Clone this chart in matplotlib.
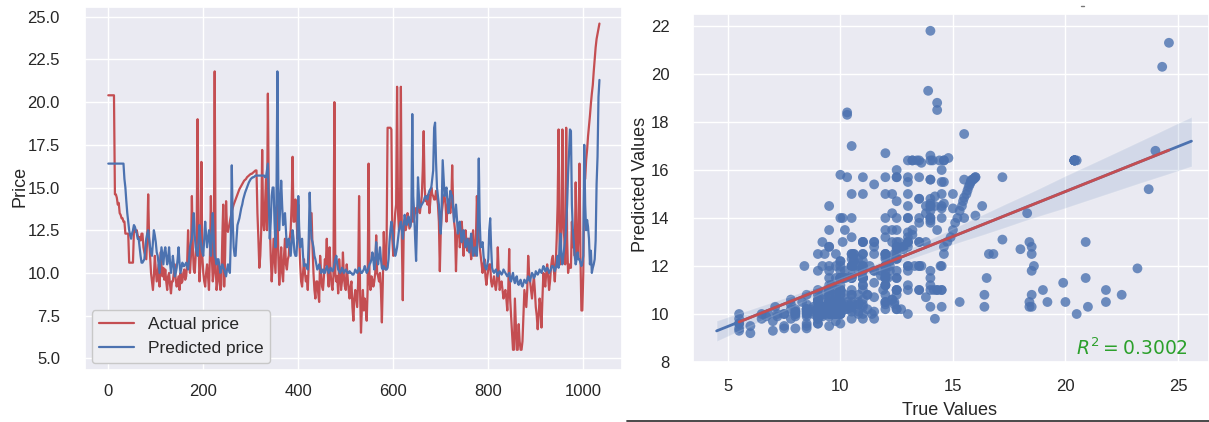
import numpy as np
import matplotlib
matplotlib.use("Agg")
import matplotlib.pyplot as plt
import seaborn as sns
from matplotlib.lines import Line2D

# ---------------- data ----------------
sample_index = np.arange(0, 1035, 2)   # every 2nd point of the test set

actual_price = [
    20.4, 20.4, 20.4, 20.4, 20.4, 20.4, 20.4, 14.6, 14.6, 14.4, 14.0, 14.1, 13.5, 13.4, 13.2, 13.2, 13.0, 13.0, 12.3, 12.3,
    12.3, 12.3, 10.6, 10.6, 10.6, 10.6, 10.6, 12.5, 12.5, 12.4, 12.5, 12.2, 12.0, 12.1, 11.9, 12.3, 12.3, 11.5, 11.2, 11.0,
    10.8, 12.0, 14.6, 12.0, 11.0, 10.0, 9.5, 9.0, 9.8, 11.0, 10.2, 9.5, 10.0, 10.5, 9.2, 11.2, 10.5, 9.8, 10.3, 9.6,
    10.2, 9.5, 9.0, 9.8, 10.0, 9.3, 8.8, 9.5, 9.5, 10.0, 10.5, 9.6, 9.2, 9.5, 9.8, 9.0, 10.0, 9.4, 9.5, 10.0,
    10.2, 9.6, 9.8, 10.5, 12.5, 10.8, 10.0, 11.0, 14.5, 11.5, 10.2, 10.0, 11.0, 12.0, 19.0, 12.0, 9.5, 10.5, 16.5, 11.0,
    10.0, 9.5, 9.2, 10.0, 10.5, 9.8, 9.0, 11.0, 14.5, 11.0, 9.5, 10.0, 21.8, 10.5, 9.0, 9.5, 10.5, 9.8, 9.0, 9.3,
    12.0, 14.0, 9.2, 11.0, 14.2, 12.5, 12.4, 12.7, 13.0, 13.3, 13.6, 13.8, 14.0, 14.15, 14.3, 14.45, 14.6, 14.75, 14.9, 15.0,
    15.1, 15.2, 15.3, 15.4, 15.45, 15.5, 15.6, 15.65, 15.7, 15.75, 15.8, 15.8, 15.85, 15.9, 15.95, 16.0, 16.0, 13.5, 12.0, 10.3,
    11.0, 12.5, 17.2, 13.0, 12.5, 14.0, 15.5, 12.5, 20.5, 14.0, 13.0, 11.0, 9.5, 10.5, 12.0, 11.0, 10.0, 12.5, 14.0, 11.0,
    9.3, 10.5, 11.5, 10.0, 9.5, 11.0, 12.0, 10.5, 10.2, 10.8, 11.0, 12.0, 12.5, 14.0, 16.8, 13.0, 13.0, 14.3, 13.5, 12.0,
    14.0, 12.0, 10.5, 9.5, 9.2, 10.0, 10.8, 10.0, 9.5, 9.8, 9.0, 10.5, 12.5, 13.0, 13.5, 11.5, 10.0, 9.0, 8.5, 9.5,
    9.5, 8.8, 8.3, 11.0, 10.0, 9.2, 9.0, 9.8, 10.8, 10.5, 12.0, 10.0, 9.2, 11.5, 10.0, 9.3, 9.0, 9.8, 20.0, 10.0,
    9.5, 9.8, 8.8, 10.8, 10.0, 9.0, 9.5, 11.2, 9.8, 9.2, 9.0, 10.5, 9.7, 9.0, 8.5, 9.2, 9.5, 8.0, 7.2, 8.5,
    9.0, 8.5, 8.0, 9.5, 14.5, 9.0, 6.5, 8.0, 9.0, 7.8, 8.5, 8.0, 7.2, 9.0, 16.4, 9.5, 9.0, 9.8, 9.6, 9.2,
    9.5, 10.0, 12.2, 10.0, 9.8, 9.5, 10.0, 9.0, 7.1, 9.5, 12.4, 10.5, 10.2, 12.0, 18.5, 18.5, 18.5, 18.5, 18.4, 12.0,
    11.0, 12.5, 13.5, 14.0, 20.9, 13.5, 12.5, 13.0, 20.9, 12.0, 8.4, 12.5, 13.0, 12.5, 12.8, 13.5, 13.2, 12.6, 12.8, 13.0,
    13.9, 13.0, 13.2, 13.6, 13.8, 13.5, 14.0, 13.8, 13.5, 14.0, 14.5, 16.0, 18.3, 15.0, 14.2, 14.5, 14.0, 14.6, 13.5, 14.2,
    15.0, 14.6, 14.5, 14.3, 14.3, 14.8, 14.5, 14.0, 13.0, 10.1, 12.5, 13.5, 14.0, 14.5, 14.5, 14.0, 13.0, 13.8, 14.3, 14.0,
    13.5, 14.0, 16.3, 14.0, 13.0, 12.5, 10.1, 12.0, 12.5, 12.8, 11.5, 12.0, 13.0, 12.2, 11.0, 12.0, 12.5, 11.8, 11.3, 12.0,
    12.0, 11.5, 10.8, 11.8, 12.5, 11.5, 11.0, 12.0, 14.5, 13.0, 12.0, 11.5, 11.0, 10.5, 10.0, 10.5, 10.8, 9.8, 9.3, 9.8,
    10.2, 10.5, 10.5, 9.5, 9.2, 9.5, 9.8, 9.3, 9.0, 9.5, 11.5, 10.0, 9.0, 9.3, 9.5, 9.0, 8.5, 8.8, 9.0, 8.5,
    7.8, 9.0, 11.4, 8.5, 7.5, 6.5, 5.5, 5.5, 8.5, 7.0, 5.5, 5.5, 7.0, 6.0, 5.5, 5.5, 6.0, 7.5, 9.0, 8.5,
    8.0, 9.0, 11.0, 10.0, 9.5, 9.0, 8.5, 9.2, 9.8, 9.0, 8.0, 7.5, 6.7, 7.5, 8.5, 8.0, 6.8, 8.5, 10.0, 9.5,
    9.2, 10.0, 10.5, 9.8, 9.0, 9.5, 10.3, 10.8, 11.0, 10.2, 9.5, 10.5, 12.0, 14.0, 18.4, 12.0, 10.5, 12.5, 18.4, 13.0,
    12.0, 10.5, 18.5, 12.0, 10.0, 10.5, 10.3, 10.3, 13.0, 11.5, 12.5, 11.0, 15.3, 12.0, 11.0, 12.5, 16.4, 11.0, 7.8, 7.8,
    10.0, 15.5, 15.5, 16.6, 17.2, 18.0, 18.6, 19.2, 19.9, 20.5, 21.0, 21.8, 22.5, 23.2, 23.7, 24.0, 24.3, 24.6,
]

predicted_price = [
    16.4, 16.4, 16.4, 16.4, 16.4, 16.4, 16.4, 16.4, 16.4, 16.4, 16.4, 16.4, 16.4, 16.4, 16.4, 16.4, 16.4, 15.5, 15.0, 14.2,
    13.5, 13.0, 12.5, 12.2, 12.0, 12.3, 12.5, 12.8, 12.7, 12.5, 12.3, 12.0, 12.0, 11.5, 11.0, 10.6, 10.6, 10.7, 10.8, 11.5,
    12.0, 12.3, 12.5, 12.0, 11.5, 11.2, 11.0, 11.8, 12.5, 12.2, 11.8, 11.2, 11.0, 10.5, 10.0, 10.8, 11.5, 11.0, 10.5, 11.2,
    11.5, 11.0, 10.5, 10.8, 11.5, 10.6, 10.0, 10.4, 11.0, 10.5, 9.8, 10.0, 10.3, 10.8, 11.5, 10.6, 10.0, 10.3, 10.6, 10.4,
    10.4, 10.5, 10.6, 10.4, 10.2, 10.8, 11.5, 11.8, 12.0, 12.8, 13.5, 12.2, 11.5, 11.2, 11.0, 11.8, 12.8, 12.0, 11.5, 11.2,
    11.0, 12.0, 13.0, 12.2, 11.5, 12.0, 12.5, 11.8, 11.0, 12.5, 13.5, 12.0, 11.0, 10.8, 10.5, 10.8, 10.8, 10.4, 10.0, 10.3,
    10.5, 10.3, 10.2, 10.0, 9.8, 10.2, 10.5, 10.2, 10.0, 12.0, 16.3, 13.0, 11.5, 11.0, 11.0, 12.0, 12.8, 13.0, 13.2, 13.5,
    13.8, 14.0, 14.3, 14.5, 14.7, 14.85, 15.0, 15.15, 15.3, 15.4, 15.5, 15.55, 15.6, 15.6, 15.65, 15.7, 15.7, 15.7, 15.7, 15.7,
    15.7, 15.7, 15.7, 15.7, 15.7, 15.6, 15.6, 16.0, 16.4, 14.0, 12.0, 13.0, 14.5, 15.0, 15.0, 13.0, 11.5, 14.0, 21.8, 15.0,
    12.5, 14.0, 15.4, 14.0, 12.8, 13.0, 13.5, 12.5, 11.5, 11.8, 12.0, 11.5, 11.0, 11.8, 12.5, 12.0, 11.2, 11.0, 11.0, 12.0,
    14.5, 12.5, 11.5, 11.8, 12.0, 11.0, 10.4, 10.5, 10.5, 10.3, 10.2, 12.0, 14.7, 13.0, 12.0, 11.8, 11.5, 11.0, 10.8, 10.5,
    10.2, 10.3, 10.5, 10.3, 10.0, 10.1, 10.2, 10.0, 10.0, 10.2, 10.4, 10.2, 10.0, 10.1, 10.3, 10.2, 10.1, 10.2, 10.5, 10.8,
    11.0, 10.5, 10.2, 10.1, 10.0, 10.1, 10.3, 10.2, 10.0, 10.1, 10.2, 10.1, 10.0, 10.0, 10.1, 10.0, 10.0, 9.9, 9.9, 10.0,
    10.2, 10.1, 10.0, 10.1, 10.3, 10.2, 10.0, 10.0, 10.1, 10.2, 10.4, 10.2, 10.0, 10.1, 10.3, 10.5, 10.6, 10.8, 11.2, 10.8,
    10.2, 10.8, 11.8, 11.0, 10.5, 11.0, 11.5, 10.8, 10.3, 10.2, 10.4, 10.3, 10.2, 10.2, 10.3, 10.8, 11.8, 12.5, 13.0, 12.5,
    12.0, 11.5, 11.0, 11.2, 11.5, 12.0, 12.5, 12.8, 13.0, 12.5, 12.0, 12.8, 13.4, 13.0, 12.8, 13.0, 13.3, 13.0, 12.7, 13.2,
    19.3, 14.5, 13.5, 12.0, 10.7, 13.0, 15.6, 14.5, 13.8, 13.9, 14.0, 14.1, 14.2, 14.4, 14.5, 14.4, 14.3, 14.6, 14.8, 14.9,
    15.0, 15.5, 16.0, 18.5, 18.8, 16.5, 15.0, 14.5, 14.0, 13.0, 12.3, 14.0, 16.6, 15.5, 14.5, 14.8, 15.0, 14.2, 13.5, 14.0,
    14.8, 14.6, 14.5, 13.8, 13.0, 13.5, 14.0, 13.2, 12.3, 12.8, 13.0, 12.4, 11.8, 12.2, 12.5, 12.0, 11.5, 11.8, 12.0, 11.6,
    11.2, 11.8, 12.3, 11.6, 11.0, 11.3, 11.5, 11.2, 11.0, 13.0, 16.7, 13.0, 11.5, 11.6, 11.8, 11.0, 10.5, 10.3, 10.2, 10.5,
    10.8, 12.5, 13.2, 11.5, 10.3, 10.1, 10.0, 10.1, 10.2, 10.0, 9.8, 10.0, 10.1, 10.0, 9.9, 10.0, 10.2, 10.1, 10.0, 9.9,
    9.8, 9.9, 10.0, 9.6, 9.5, 9.8, 10.0, 9.6, 9.4, 9.7, 9.8, 9.4, 9.3, 9.5, 9.6, 9.3, 9.2, 9.4, 9.6, 9.5,
    9.4, 9.6, 9.8, 9.6, 9.5, 9.8, 10.0, 9.9, 9.7, 9.8, 10.1, 10.0, 9.9, 10.0, 10.2, 10.1, 10.0, 10.2, 10.4, 10.3,
    10.1, 10.2, 10.3, 10.2, 10.0, 10.1, 10.2, 10.4, 10.4, 10.3, 10.1, 10.3, 10.5, 11.0, 10.3, 11.5, 12.3, 11.0, 10.5, 11.0,
    11.5, 12.0, 12.8, 14.0, 15.8, 17.0, 18.4, 18.3, 14.0, 12.5, 11.8, 11.0, 10.5, 10.8, 11.2, 10.8, 10.8, 10.6, 10.4, 10.6,
    11.0, 17.5, 14.0, 12.5, 13.1, 12.7, 12.0, 10.5, 11.3, 10.0, 10.3, 10.5, 10.8, 11.9, 15.2, 16.8, 20.3, 21.3,
]

if not (len(actual_price) == len(predicted_price) == len(sample_index)):
    raise ValueError(f"length mismatch {len(actual_price)} {len(predicted_price)} {len(sample_index)}")

left_xticks = [0, 200, 400, 600, 800, 1000]
left_yticks = [5.0, 7.5, 10.0, 12.5, 15.0, 17.5, 20.0, 22.5, 25.0]
right_xticks = [5, 10, 15, 20, 25]
right_yticks = [8, 10, 12, 14, 16, 18, 20, 22]
legend_labels = ["Actual price", "Predicted price"]
r2_text = r"$R^2 = 0.3002$"

# ---------------- style ----------------
sns.set_theme(style="darkgrid")
plt.rcParams["font.family"] = ["Liberation Sans", "DejaVu Sans"]

RED = "#C44E52"
BLUE = "#4C72B0"
TXT = "#262626"

W, H = 1209, 422
fig = plt.figure(figsize=(W / 100, H / 100), dpi=100)
ax1 = fig.add_axes([85 / W, (H - 370) / H, 537 / W, 363 / H])
ax2 = fig.add_axes([693 / W, (H - 362) / H, 516 / W, 348 / H])

# ---------------- left: time series ----------------
ax1.plot(sample_index, actual_price, color=RED, lw=1.6, label=legend_labels[0])
ax1.plot(sample_index, predicted_price, color=BLUE, lw=1.6, label=legend_labels[1])
ax1.set_xlim(-49, 1081.5)
ax1.set_ylim(4.315, 25.57)
ax1.set_xticks(left_xticks)
ax1.set_yticks(left_yticks)
ax1.set_yticklabels([f"{v:.1f}" for v in left_yticks])
ax1.tick_params(axis="both", labelsize=12, colors=TXT)
ax1.tick_params(axis="y", pad=12)
ax1.tick_params(axis="x", pad=4)
ax1.set_ylabel("Price", fontsize=13, color=TXT)
ax1.yaxis.set_label_coords(-0.106, 0.507)
leg = ax1.legend(loc="lower left", fontsize=12.5, frameon=True,
                 borderaxespad=0.4, handlelength=2.0)
leg.get_frame().set_facecolor("#EEEEF2")
leg.get_frame().set_edgecolor("#C8C8C8")
leg.get_frame().set_alpha(1.0)

# ---------------- right: regression scatter ----------------
x_true = np.array(actual_price)
y_pred = np.array(predicted_price)
ax2.set_xlim(4.5, 25.6)  # extent of the extrapolated fit line
sns.regplot(x=x_true, y=y_pred, ax=ax2, truncate=False, color=BLUE, seed=1,
            scatter_kws=dict(s=50, alpha=0.8, edgecolor="none"),
            line_kws=dict(lw=2.0))
slope, intercept = np.polyfit(x_true, y_pred, 1)
xr = np.array([x_true.min(), x_true.max()])
ax2.plot(xr, intercept + slope * xr, color=RED, lw=2.0)
ax2.set_xlim(3.45, 26.38)
ax2.set_ylim(8.03, 22.5)
ax2.set_xticks(right_xticks)
ax2.set_yticks(right_yticks)
ax2.tick_params(axis="both", labelsize=12, colors=TXT)
ax2.tick_params(axis="y", pad=11)
ax2.tick_params(axis="x", pad=6)
ax2.set_xlabel("True Values", fontsize=13, color=TXT)
ax2.set_ylabel("Predicted Values", fontsize=13, color=TXT)
ax2.xaxis.set_label_coords(0.498, -0.115)
ax2.yaxis.set_label_coords(-0.086, 0.511)
ax2.text(25.46, 8.28, r2_text, color="#2CA02C", fontsize=13.5,
         ha="right", va="baseline")

# screenshot artefacts: dark rule at the bottom and a tiny mark at the top
fig.add_artist(Line2D([627 / W, 1.0], [1.2 / H, 1.2 / H], transform=fig.transFigure,
                      color="#3A3A3A", lw=1.3))
fig.add_artist(Line2D([1081 / W, 1084 / W], [(H - 6) / H, (H - 6) / H],
                      transform=fig.transFigure, color="#777777", lw=1.0))

fig.savefig("out.png", dpi=100)
